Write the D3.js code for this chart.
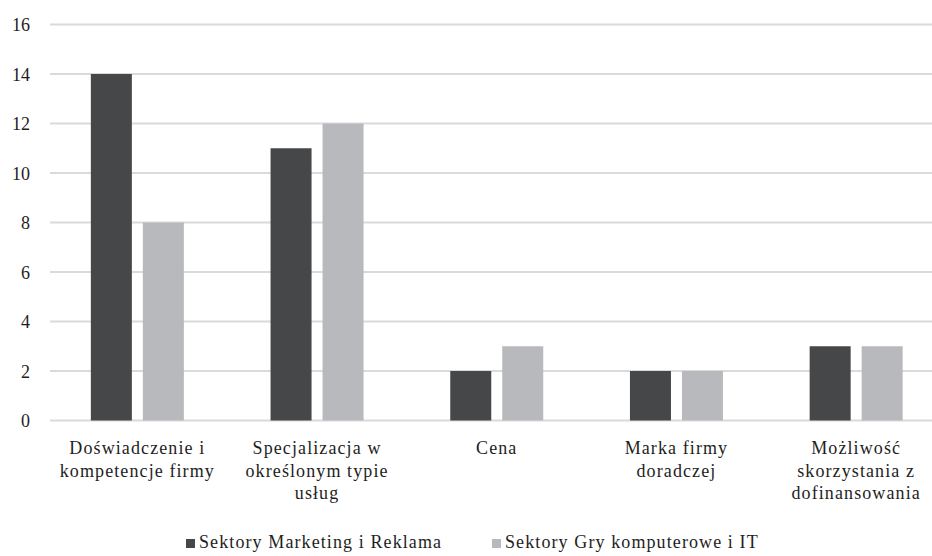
<!DOCTYPE html>
<html>
<head>
<meta charset="utf-8">
<script src="https://cdn.jsdelivr.net/npm/d3@7"></script>
<style>
  html, body { margin: 0; padding: 0; background: #fff; }
</style>
</head>
<body>
<svg id="chart" width="932" height="556"></svg>
<script>
// Categories (each label split into its display lines)
const categories = [
  ["Doświadczenie i", "kompetencje firmy"],
  ["Specjalizacja w", "określonym typie", "usług"],
  ["Cena"],
  ["Marka firmy", "doradczej"],
  ["Możliwość", "skorzystania z", "dofinansowania"]
];
const seriesNames = ["Sektory Marketing i Reklama", "Sektory Gry komputerowe i IT"];
const marketing = [14, 11, 2, 2, 3];
const gamesIT = [8, 12, 3, 2, 3];
const yTicks = [0, 2, 4, 6, 8, 10, 12, 14, 16];
const colors = ["#464749", "#b8b9bc"];

const FONT = "'Liberation Serif', 'Times New Roman', Times, 'DejaVu Serif', serif";
const TEXT_COLOR = "#1e1e1e";

const svg = d3.select("#chart");
const margin = { left: 47.5, right: 946, top: 24.5, bottom: 420.5 };

const keys = categories.map((c, i) => i);
const values = [marketing, gamesIT];

const x0 = d3.scaleBand()
  .domain(keys)
  .range([margin.left, margin.right])
  .paddingInner(0.4825)
  .paddingOuter(0.24125);

const x1 = d3.scaleBand()
  .domain([0, 1])
  .range([0, x0.bandwidth()])
  .paddingInner(0.2115);

const y = d3.scaleLinear().domain([0, 16]).range([margin.bottom, margin.top]);

// Horizontal gridlines
svg.append("g")
  .selectAll("line")
  .data(yTicks)
  .join("line")
  .attr("x1", 50)
  .attr("x2", 932)
  .attr("y1", d => y(d))
  .attr("y2", d => y(d))
  .attr("stroke", "#dadada")
  .attr("stroke-width", 2);

// Y tick labels
const yAxis = d3.axisLeft(y).tickValues(yTicks).tickSize(0).tickPadding(0);
const gy = svg.append("g").attr("transform", "translate(30,0)").call(yAxis);
gy.select(".domain").remove();
gy.attr("font-family", null).attr("font-size", null);
gy.selectAll("text")
  .style("font-family", FONT)
  .style("font-size", "18px")
  .style("fill", TEXT_COLOR)
  .attr("dy", "0.34em");

// Bars
const groups = svg.append("g")
  .selectAll("g")
  .data(keys)
  .join("g")
  .attr("transform", d => `translate(${x0(d)},0)`);

groups.selectAll("rect")
  .data(k => [0, 1].map(s => ({ s, v: values[s][k] })))
  .join("rect")
  .attr("x", d => x1(d.s))
  .attr("width", x1.bandwidth())
  .attr("y", d => y(d.v))
  .attr("height", d => y(0) - y(d.v))
  .attr("fill", d => colors[d.s]);

// Category labels
const labels = svg.append("g")
  .selectAll("text")
  .data(keys)
  .join("text")
  .attr("text-anchor", "middle")
  .style("font-family", FONT)
  .style("font-size", "18px")
  .style("letter-spacing", "1.1px")
  .style("fill", TEXT_COLOR)
  .attr("x", d => x0(d) + x0.bandwidth() / 2)
  .attr("y", 454);

labels.selectAll("tspan")
  .data(k => categories[k])
  .join("tspan")
  .attr("x", function () { return d3.select(this.parentNode).attr("x"); })
  .attr("dy", (d, i) => i === 0 ? 0 : 22.5)
  .text(d => d);

// Legend
const legendItems = [
  { name: seriesNames[0], color: colors[0], x: 186 },
  { name: seriesNames[1], color: colors[1], x: 492 }
];
const lg = svg.append("g")
  .selectAll("g")
  .data(legendItems)
  .join("g")
  .attr("transform", d => `translate(${d.x},0)`);
lg.append("rect")
  .attr("x", 0)
  .attr("y", 539)
  .attr("width", 9)
  .attr("height", 9)
  .attr("fill", d => d.color);
lg.append("text")
  .attr("x", 13)
  .attr("y", 548)
  .style("font-family", FONT)
  .style("font-size", "18px")
  .style("letter-spacing", "1.1px")
  .style("fill", TEXT_COLOR)
  .text(d => d.name);
</script>
</body>
</html>
